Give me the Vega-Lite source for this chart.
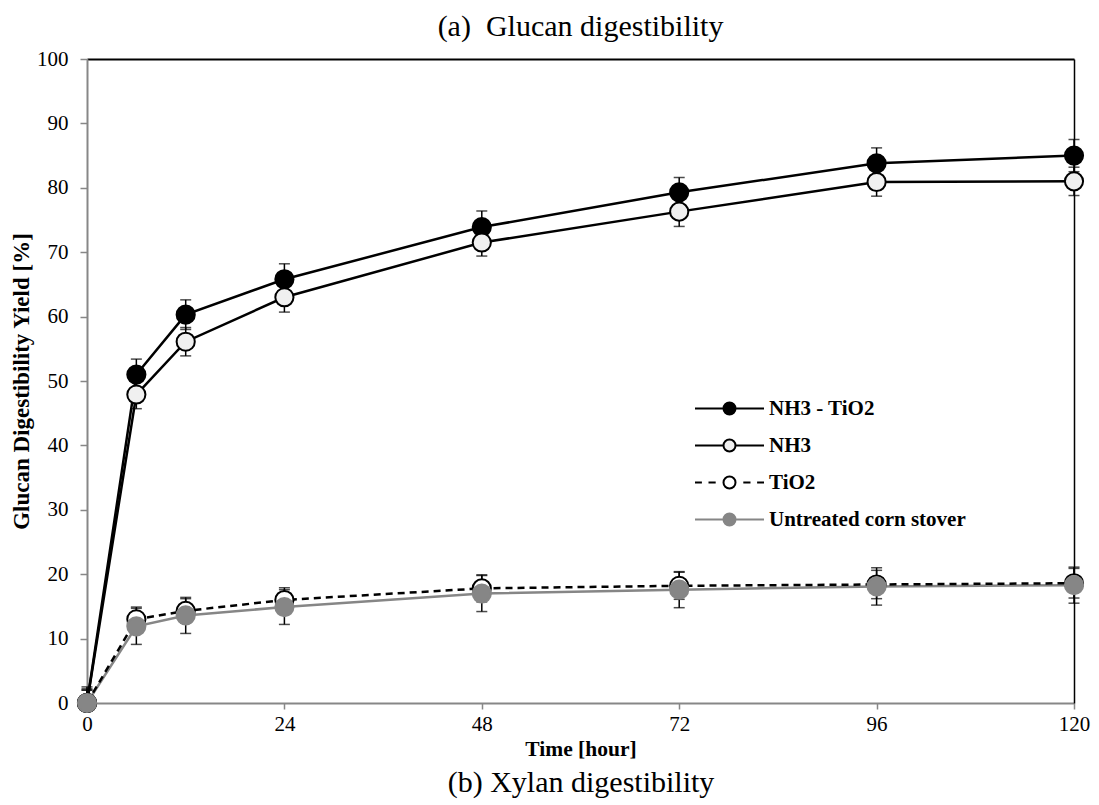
{
  "$schema": "https://vega.github.io/schema/vega-lite/v6.json",
  "autosize": {"type": "none"},
  "padding": {"left": 87, "top": 59, "right": 25, "bottom": 102},
  "width": 987,
  "height": 644,
  "background": "white",
  "config": {
    "view": {"stroke": null},
    "font": "Liberation Serif",
    "legend": {
      "orient": "none",
      "legendX": 632,
      "legendY": 339,
      "padding": 0,
      "symbolSize": 144,
      "symbolStrokeWidth": 2,
      "labelFont": "Liberation Serif",
      "labelFontSize": 21,
      "labelFontWeight": "bold",
      "labelColor": "black",
      "labelOffset": 29,
      "rowPadding": 15,
      "labelLimit": 400
    }
  },
  "title": {
    "text": "(a)\u00a0 Glucan digestibility",
    "frame": "group",
    "anchor": "middle",
    "font": "Liberation Serif",
    "fontSize": 30,
    "fontWeight": "normal",
    "color": "black",
    "baseline": "alphabetic",
    "offset": 22,
    "dy": 40
  },
  "data": {
    "values": [
      {"t": 0, "series": "NH3 - TiO2", "y": 0, "lo": 0, "hi": 2.5},
      {"t": 6, "series": "NH3 - TiO2", "y": 51.0, "lo": 48.6, "hi": 53.4},
      {"t": 12, "series": "NH3 - TiO2", "y": 60.3, "lo": 58.0, "hi": 62.6},
      {"t": 24, "series": "NH3 - TiO2", "y": 65.8, "lo": 63.4, "hi": 68.2},
      {"t": 48, "series": "NH3 - TiO2", "y": 73.9, "lo": 71.4, "hi": 76.4},
      {"t": 72, "series": "NH3 - TiO2", "y": 79.3, "lo": 77.0, "hi": 81.6},
      {"t": 96, "series": "NH3 - TiO2", "y": 83.8, "lo": 81.4, "hi": 86.2},
      {"t": 120, "series": "NH3 - TiO2", "y": 85.0, "lo": 82.5, "hi": 87.5},
      {"t": 0, "series": "NH3", "y": 0, "lo": 0, "hi": 2.2},
      {"t": 6, "series": "NH3", "y": 47.9, "lo": 45.7, "hi": 50.1},
      {"t": 12, "series": "NH3", "y": 56.1, "lo": 53.9, "hi": 58.3},
      {"t": 24, "series": "NH3", "y": 63.0, "lo": 60.7, "hi": 65.3},
      {"t": 48, "series": "NH3", "y": 71.5, "lo": 69.4, "hi": 73.6},
      {"t": 72, "series": "NH3", "y": 76.3, "lo": 74.0, "hi": 78.6},
      {"t": 96, "series": "NH3", "y": 80.9, "lo": 78.7, "hi": 83.1},
      {"t": 120, "series": "NH3", "y": 81.0, "lo": 78.8, "hi": 83.2},
      {"t": 0, "series": "TiO2", "y": 0, "lo": 0, "hi": 2.0},
      {"t": 6, "series": "TiO2", "y": 13.0, "lo": 11.1, "hi": 14.9},
      {"t": 12, "series": "TiO2", "y": 14.3, "lo": 12.4, "hi": 16.2},
      {"t": 24, "series": "TiO2", "y": 16.0, "lo": 14.1, "hi": 17.9},
      {"t": 48, "series": "TiO2", "y": 17.8, "lo": 15.7, "hi": 19.9},
      {"t": 72, "series": "TiO2", "y": 18.2, "lo": 16.1, "hi": 20.3},
      {"t": 96, "series": "TiO2", "y": 18.4, "lo": 16.2, "hi": 20.6},
      {"t": 120, "series": "TiO2", "y": 18.6, "lo": 16.3, "hi": 20.9},
      {"t": 0, "series": "Untreated corn stover", "y": 0, "lo": 0, "hi": 2.0},
      {"t": 6, "series": "Untreated corn stover", "y": 11.9, "lo": 9.1, "hi": 14.7},
      {"t": 12, "series": "Untreated corn stover", "y": 13.6, "lo": 10.8, "hi": 16.4},
      {"t": 24, "series": "Untreated corn stover", "y": 14.9, "lo": 12.2, "hi": 17.6},
      {"t": 48, "series": "Untreated corn stover", "y": 17.0, "lo": 14.2, "hi": 19.8},
      {"t": 72, "series": "Untreated corn stover", "y": 17.6, "lo": 14.8, "hi": 20.4},
      {"t": 96, "series": "Untreated corn stover", "y": 18.1, "lo": 15.2, "hi": 21.0},
      {"t": 120, "series": "Untreated corn stover", "y": 18.3, "lo": 15.5, "hi": 21.1}
    ]
  },
  "resolve": {"axis": {"x": "independent", "y": "independent"}},
  "layer": [
    {
      "mark": {"type": "errorbar", "ticks": {"size": 11, "color": "black"}, "rule": {"color": "black"}, "thickness": 1.5},
      "encoding": {
        "x": {
          "field": "t", "type": "quantitative",
          "scale": {"domain": [0, 120], "nice": false, "zero": false},
          "axis": {
            "orient": "bottom",
            "values": [0, 24, 48, 72, 96, 120],
            "title": "Time [hour]",
            "titleFont": "Liberation Serif", "titleFontSize": 21.5, "titleFontWeight": "bold", "titleColor": "black",
            "titlePadding": 4,
            "labelFont": "Liberation Serif", "labelFontSize": 21, "labelColor": "black", "labelPadding": 4,
            "labelFlush": false,
            "grid": false,
            "domainColor": "#878787", "domainWidth": 2,
            "tickColor": "#878787", "tickWidth": 1.5, "tickSize": 6
          }
        },
        "y": {
          "field": "lo", "type": "quantitative",
          "scale": {"domain": [0, 100], "nice": false},
          "axis": {
            "orient": "left",
            "values": [0, 10, 20, 30, 40, 50, 60, 70, 80, 90, 100],
            "title": "Glucan Digestibility Yield [%]",
            "titleFont": "Liberation Serif", "titleFontSize": 23, "titleFontWeight": "bold", "titleColor": "black",
            "titlePadding": 3,
            "labelFont": "Liberation Serif", "labelFontSize": 21, "labelColor": "black", "labelPadding": 12,
            "labelFlush": false,
            "grid": false,
            "domainColor": "#878787", "domainWidth": 2,
            "tickColor": "#878787", "tickWidth": 1.5, "tickSize": 7
          }
        },
        "y2": {"field": "hi"}
      }
    },
    {
      "transform": [{"filter": "datum.series !== 'TiO2'"}],
      "mark": {"type": "line", "strokeWidth": 2.5},
      "encoding": {
        "x": {
          "field": "t", "type": "quantitative",
          "axis": {
            "orient": "bottom",
            "title": "(b) Xylan digestibility",
            "titleFont": "Liberation Serif", "titleFontSize": 30, "titleFontWeight": "normal", "titleColor": "black",
            "titleBaseline": "alphabetic",
            "titlePadding": 88,
            "labels": false, "ticks": false, "domain": false, "grid": false
          }
        },
        "y": {
          "field": "y", "type": "quantitative",
          "axis": {
            "orient": "right",
            "title": null,
            "labels": false, "ticks": false, "grid": false,
            "domainColor": "black", "domainWidth": 1.5
          }
        },
        "detail": {"field": "series"},
        "stroke": {
          "field": "series", "type": "nominal",
          "scale": {
            "domain": ["NH3 - TiO2", "NH3", "TiO2", "Untreated corn stover"],
            "range": ["#000000", "#000000", "#000000", "#868686"]
          },
          "title": null,
          "legend": {
            "encode": {
              "symbols": {
                "update": {
                  "shape": {"signal": "datum.value === 'TiO2' ? 'M-5.75,0H-4.6M-3.5,0H-2.3M2.3,0H3.5M4.6,0H5.75M1,0A1,1,0,1,1,-1,0A1,1,0,1,1,1,0Z' : 'M-5.75,0H-1M1,0H5.75M1,0A1,1,0,1,1,-1,0A1,1,0,1,1,1,0Z'"},
                  "fill": {"scale": "fill", "field": "value"},
                  "stroke": {"scale": "stroke", "field": "value"},
                  "strokeWidth": {"value": 2},
                  "opacity": {"value": 1}
                }
              }
            }
          }
        }
      }
    },
    {
      "transform": [{"filter": "datum.series === 'TiO2'"}],
      "mark": {"type": "line", "strokeWidth": 2.5, "strokeDash": [7, 5], "color": "black"},
      "encoding": {
        "x": {"field": "t", "type": "quantitative", "axis": null},
        "y": {"field": "y", "type": "quantitative", "axis": null}
      }
    },
    {
      "mark": {"type": "point", "filled": false, "size": 330, "strokeWidth": 2, "opacity": 1, "shape": "circle"},
      "encoding": {
        "x": {
          "field": "t", "type": "quantitative",
          "axis": {
            "orient": "top",
            "title": null,
            "labels": false, "ticks": false, "grid": false,
            "domainColor": "black", "domainWidth": 2
          }
        },
        "y": {"field": "y", "type": "quantitative", "axis": null},
        "fill": {
          "field": "series", "type": "nominal",
          "scale": {
            "domain": ["NH3 - TiO2", "NH3", "TiO2", "Untreated corn stover"],
            "range": ["#000000", "#f0f0f0", "#ffffff", "#868686"]
          },
          "title": null,
          "legend": {
            "encode": {
              "symbols": {
                "update": {
                  "shape": {"signal": "datum.value === 'TiO2' ? 'M-5.75,0H-4.6M-3.5,0H-2.3M2.3,0H3.5M4.6,0H5.75M1,0A1,1,0,1,1,-1,0A1,1,0,1,1,1,0Z' : 'M-5.75,0H-1M1,0H5.75M1,0A1,1,0,1,1,-1,0A1,1,0,1,1,1,0Z'"},
                  "fill": {"scale": "fill", "field": "value"},
                  "stroke": {"scale": "stroke", "field": "value"},
                  "strokeWidth": {"value": 2},
                  "opacity": {"value": 1}
                }
              }
            }
          }
        },
        "stroke": {"field": "series", "type": "nominal", "title": null}
      }
    }
  ]
}
